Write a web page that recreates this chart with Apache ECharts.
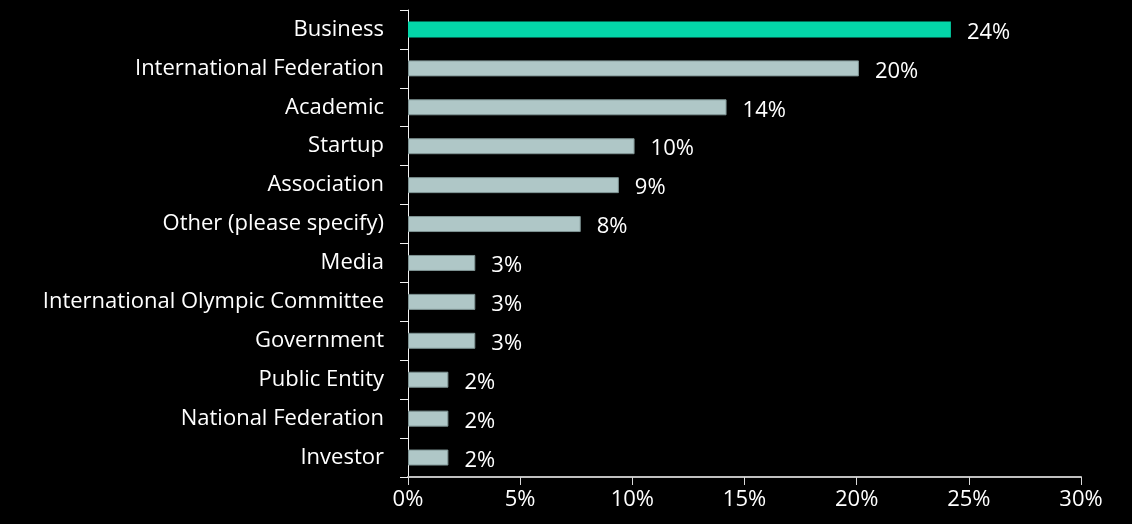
<!DOCTYPE html>
<html>
<head>
<meta charset="utf-8">
<script src="https://cdn.jsdelivr.net/npm/echarts@6/dist/echarts.min.js"></script>
<style>
  html, body { margin: 0; padding: 0; background: #000; }
  #chart { width: 1132px; height: 524px; }
</style>
</head>
<body>
<div id="chart"></div>
<script>
// Respondent type shares (percent), listed top to bottom
const categories = [
  'Business',
  'International Federation',
  'Academic',
  'Startup',
  'Association',
  'Other (please specify)',
  'Media',
  'International Olympic Committee',
  'Government',
  'Public Entity',
  'National Federation',
  'Investor'
];
const shares = [24.2, 20.1, 14.2, 10.1, 9.4, 7.7, 3.0, 3.0, 3.0, 1.8, 1.8, 1.8];
const highlighted = 'Business';
const xTicks = [0, 5, 10, 15, 20, 25, 30];

const FONT = 'Open Sans';
const chart = echarts.init(document.getElementById('chart'));

// Category axis runs bottom-up, so reverse to keep the first entry on top
const cats = categories.slice().reverse();
const vals = shares.slice().reverse();

chart.setOption({
  backgroundColor: '#000000',
  animation: false,
  grid: { left: 408, right: 51, top: 10, bottom: 47 },
  xAxis: {
    type: 'value',
    min: xTicks[0],
    max: xTicks[xTicks.length - 1],
    interval: xTicks[1] - xTicks[0],
    axisLine: { show: true, lineStyle: { color: '#bfbfbf', width: 2 } },
    axisTick: { show: true, length: 8, lineStyle: { color: '#d9d9d9', width: 1 } },
    splitLine: { show: false },
    axisLabel: {
      color: '#ffffff',
      fontFamily: FONT,
      fontSize: 22,
      margin: 12,
      formatter: v => v + '%'
    }
  },
  yAxis: {
    type: 'category',
    data: cats,
    axisLine: { show: true, lineStyle: { color: '#f2f2f2', width: 1 } },
    axisTick: { show: true, length: 8, alignWithLabel: false, lineStyle: { color: '#f2f2f2' } },
    axisLabel: {
      color: '#ffffff',
      fontFamily: FONT,
      fontSize: 22,
      margin: 24,
      padding: [3, 0, 0, 0]
    }
  },
  series: [{
    type: 'bar',
    data: vals.map((v, i) => ({
      value: v,
      itemStyle: cats[i] === highlighted
        ? { color: '#03d6a9', borderColor: '#03d6a9', borderWidth: 0 }
        : { color: '#afc7c7', borderColor: '#7f9494', borderWidth: 1 }
    })),
    barWidth: 16,
    label: {
      show: true,
      position: 'right',
      distance: 16,
      offset: [0, 3],
      color: '#ffffff',
      fontFamily: FONT,
      fontSize: 22,
      formatter: p => Math.round(p.value) + '%'
    }
  }]
});
</script>
</body>
</html>
